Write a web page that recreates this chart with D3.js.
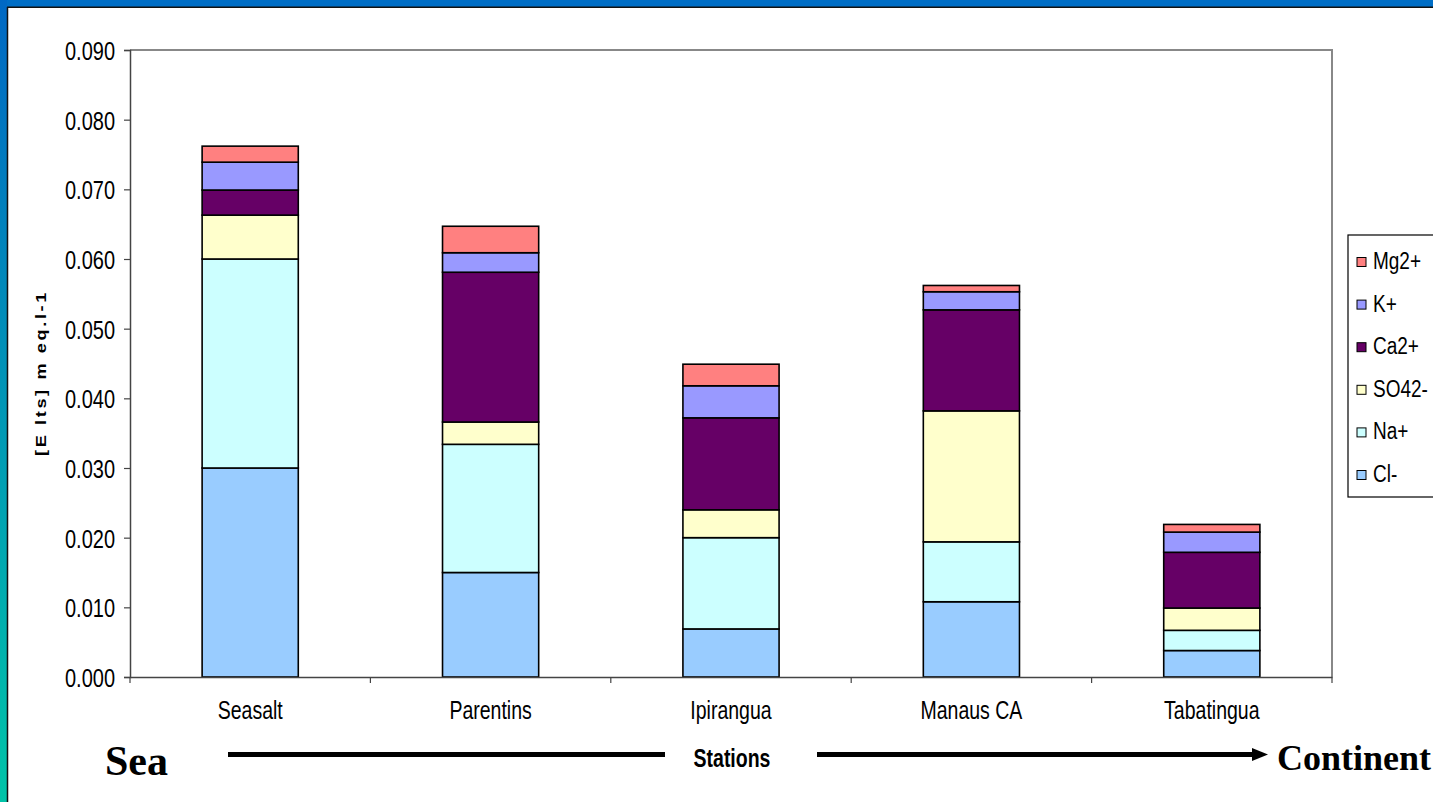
<!DOCTYPE html>
<html><head><meta charset="utf-8">
<script src="https://cdn.jsdelivr.net/npm/d3@7/dist/d3.min.js"></script>
<style>body{margin:0;padding:0;overflow:hidden;background:#fff}</style>
</head><body>
<script>
const categories = ["Seasalt","Parentins","Ipirangua","Manaus CA","Tabatingua"];
const seriesNames = ["Cl-","Na+","SO42-","Ca2+","K+","Mg2+"];
const Cl   = [0.0300,0.0150,0.0069,0.0108,0.0038];
const Na   = [0.0300,0.0184,0.0131,0.0086,0.0029];
const SO4  = [0.0063,0.0032,0.0040,0.0188,0.0032];
const Ca   = [0.0036,0.0215,0.0132,0.0145,0.0080];
const K    = [0.0040,0.0028,0.0046,0.0026,0.0029];
const Mg   = [0.0023,0.0038,0.0031,0.0009,0.0011];
const yTicks = [0,0.01,0.02,0.03,0.04,0.05,0.06,0.07,0.08,0.09];
const colors = ["#99CCFF","#CCFFFF","#FFFFCC","#660066","#9999FF","#FF8080"];

const W=1433,H=802, K_STRETCH=1.3, SANS="Liberation Sans, Arial, sans-serif", SERIF="Liberation Serif, Times New Roman, serif";
const svg=d3.select("body").append("svg").attr("width",W).attr("height",H);
function stretch(sel,k){
  sel.each(function(){
    const t=d3.select(this); const x=+t.attr("x")||0, y=+t.attr("y")||0;
    t.attr("transform",`translate(${x},${y}) scale(1,${k}) translate(${-x},${-y})`);
  });
}
const defs=svg.append("defs");
const g1=defs.append("linearGradient").attr("id","lg").attr("x1",0).attr("y1",0).attr("x2",0).attr("y2",1);
g1.append("stop").attr("offset","0%").attr("stop-color","#0068C4");
g1.append("stop").attr("offset","100%").attr("stop-color","#00C4A8");
svg.append("rect").attr("x",0).attr("y",0).attr("width",W).attr("height",H).attr("fill","#fff");
svg.append("rect").attr("x",0).attr("y",0).attr("width",W).attr("height",7).attr("fill","#006EC6");
svg.append("rect").attr("x",0).attr("y",0).attr("width",7).attr("height",H).attr("fill","url(#lg)");
svg.append("line").attr("x1",7).attr("x2",W).attr("y1",7.2).attr("y2",7.2).attr("stroke","#111").attr("stroke-width",1.5);
svg.append("line").attr("x1",7.5).attr("x2",7.5).attr("y1",7).attr("y2",H).attr("stroke","#111").attr("stroke-width",1.5);

const L=130,R=1332,T=50,B=677;
const x=d3.scaleBand().domain(categories).range([L,R]).paddingInner(0.6).paddingOuter(0.3);
const y=d3.scaleLinear().domain([0,0.09]).range([B,T]);

// plot frame
svg.append("line").attr("x1",L).attr("x2",R+1).attr("y1",T).attr("y2",T).attr("stroke","#888").attr("stroke-width",2);
svg.append("line").attr("x1",R).attr("x2",R).attr("y1",T).attr("y2",B).attr("stroke","#888").attr("stroke-width",2);

const rows=categories.map((c,i)=>({cat:c,"Cl-":Cl[i],"Na+":Na[i],"SO42-":SO4[i],"Ca2+":Ca[i],"K+":K[i],"Mg2+":Mg[i]}));
const stack=d3.stack().keys(seriesNames)(rows);
stack.forEach((s,si)=>{
  svg.append("g").selectAll("rect").data(s).join("rect")
    .attr("x",d=>x(d.data.cat)).attr("width",x.bandwidth())
    .attr("y",d=>y(d[1])).attr("height",d=>y(d[0])-y(d[1]))
    .attr("fill",colors[si]).attr("stroke","#000").attr("stroke-width",1.6);
});

// y axis
const ya=svg.append("g").attr("transform",`translate(${L},0)`)
  .call(d3.axisLeft(y).tickValues(yTicks).tickFormat(d3.format(".3f")).tickSize(6));
ya.select(".domain").attr("stroke","#444").attr("stroke-width",1.5);
ya.selectAll(".tick line").attr("stroke","#444").attr("stroke-width",1.2);
ya.selectAll("text").attr("font-family",SANS).attr("font-size",20).attr("fill","#000").attr("x",-15).attr("y",0).attr("dy","0.36em")
  .call(stretch,K_STRETCH);

// x axis
const xa=svg.append("g").attr("transform",`translate(0,${B})`)
  .call(d3.axisBottom(x).tickSize(0));
xa.select(".domain").attr("stroke","#444").attr("stroke-width",1.5);
xa.selectAll("text").attr("font-family",SANS).attr("font-size",19.5).attr("fill","#000").attr("dy","0").attr("y",42)
  .call(stretch,K_STRETCH);
const step=(R-L)/categories.length;
const bounds=d3.range(categories.length+1).map(i=>L+i*step);
svg.append("g").selectAll("line").data(bounds).join("line")
  .attr("x1",d=>d).attr("x2",d=>d).attr("y1",B).attr("y2",B+6).attr("stroke","#444").attr("stroke-width",1.2);

// y title
svg.append("text").attr("transform",`translate(46,373) scale(1,${K_STRETCH}) rotate(-90)`).attr("text-anchor","middle")
  .attr("font-family",SANS).attr("font-weight","bold").attr("font-size",14).attr("letter-spacing",2)
  .text("[E lts] m eq.l-1");

// legend
const lg=svg.append("g");
lg.append("rect").attr("x",1348).attr("y",235).attr("width",100).attr("height",262).attr("fill","#fff").attr("stroke","#000").attr("stroke-width",1.2);
const legOrder=seriesNames.slice().reverse();
legOrder.forEach((n,i)=>{
  const yy=262+i*42.6;
  lg.append("rect").attr("x",1357).attr("y",yy-4.5).attr("width",9).attr("height",9)
    .attr("fill",colors[seriesNames.indexOf(n)]).attr("stroke","#000").attr("stroke-width",1);
  lg.append("text").attr("x",1373).attr("y",yy+7).attr("font-family",SANS).attr("font-size",19).text(n)
    .call(stretch,K_STRETCH);
});

// bottom annotations
svg.append("text").attr("x",732).attr("y",767).attr("text-anchor","middle")
  .attr("font-family",SANS).attr("font-weight","bold").attr("font-size",19.5).text("Stations")
  .call(stretch,K_STRETCH);
svg.append("text").attr("x",105).attr("y",775)
  .attr("font-family",SERIF).attr("font-weight","bold").attr("font-size",42).text("Sea");
svg.append("text").attr("x",1431).attr("y",770).attr("text-anchor","end")
  .attr("font-family",SERIF).attr("font-weight","bold").attr("font-size",36).text("Continent");
svg.append("line").attr("x1",228).attr("x2",665).attr("y1",754.5).attr("y2",754.5).attr("stroke","#000").attr("stroke-width",5);
svg.append("line").attr("x1",817).attr("x2",1255).attr("y1",754.5).attr("y2",754.5).attr("stroke","#000").attr("stroke-width",5);
svg.append("path").attr("d","M1252,748 L1268,754.5 L1252,761 Z").attr("fill","#000");
</script>
</body></html>
